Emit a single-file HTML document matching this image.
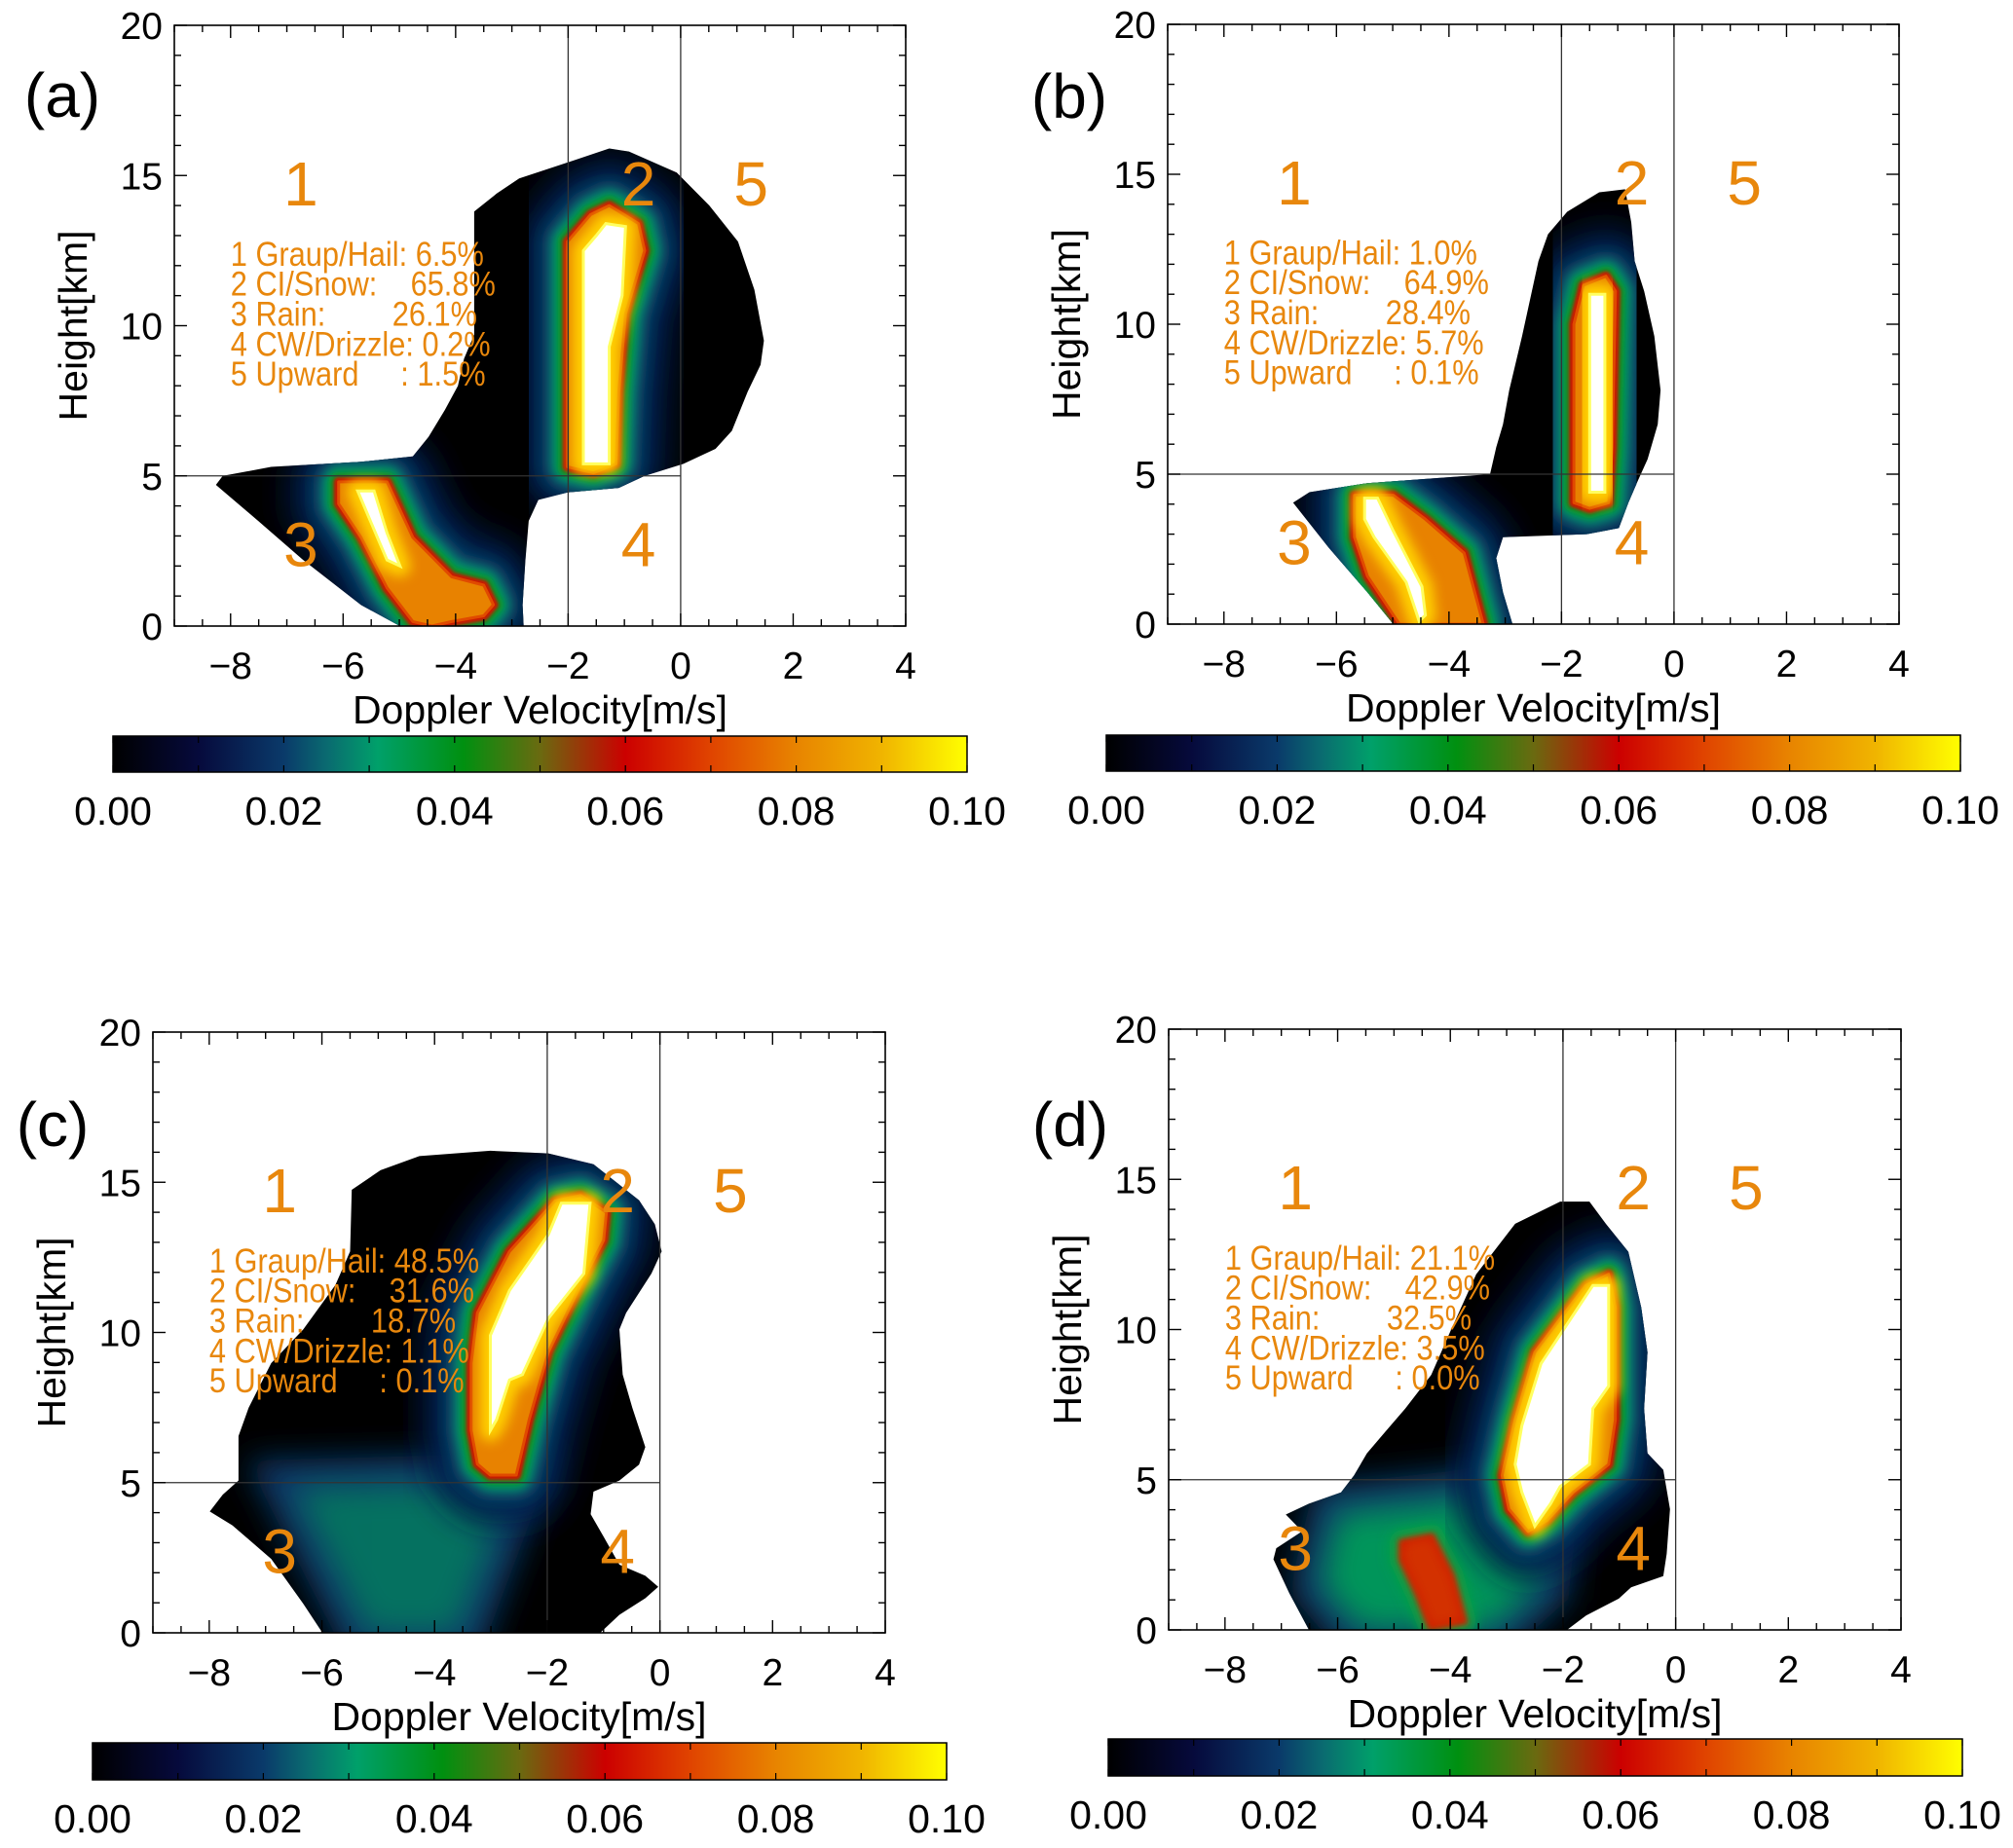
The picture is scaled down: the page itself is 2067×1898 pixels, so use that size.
<!DOCTYPE html>
<html><head><meta charset="utf-8">
<style>
html,body{margin:0;padding:0;background:#fff;}
svg{display:block;}
text{font-family:"Liberation Sans",Arial,sans-serif;}
</style></head>
<body>
<svg id="fig" width="2067" height="1898" viewBox="0 0 2067 1898" xmlns="http://www.w3.org/2000/svg">
<defs>
<linearGradient id="cmap" x1="0" x2="1" y1="0" y2="0">
<stop offset="0" stop-color="#000000"/>
<stop offset="0.1" stop-color="#060a3c"/>
<stop offset="0.2" stop-color="#0a3a6a"/>
<stop offset="0.25" stop-color="#0a6a70"/>
<stop offset="0.31" stop-color="#00a06a"/>
<stop offset="0.41" stop-color="#009010"/>
<stop offset="0.5" stop-color="#6a6a10"/>
<stop offset="0.6" stop-color="#cc0000"/>
<stop offset="0.7" stop-color="#e04400"/>
<stop offset="0.8" stop-color="#e88400"/>
<stop offset="0.9" stop-color="#f0b400"/>
<stop offset="1" stop-color="#ffff00"/>
</linearGradient>
<filter id="b1" x="-50%" y="-50%" width="200%" height="200%"><feGaussianBlur stdDeviation="1.5"/></filter>
<filter id="b3" x="-50%" y="-50%" width="200%" height="200%"><feGaussianBlur stdDeviation="3"/></filter>
<filter id="b6" x="-50%" y="-50%" width="200%" height="200%"><feGaussianBlur stdDeviation="6"/></filter>
<filter id="b10" x="-50%" y="-50%" width="200%" height="200%"><feGaussianBlur stdDeviation="10"/></filter>
<filter id="b16" x="-50%" y="-50%" width="200%" height="200%"><feGaussianBlur stdDeviation="16"/></filter>
</defs>
</svg>
<script>
// ---- axis / tick data ----
const velMajorTicks = [-8,-6,-4,-2,0,2,4];
const heightMajorTicks = [0,5,10,15,20];
const cbTickLabels = ["0.00","0.02","0.04","0.06","0.08","0.10"];
const cbTickValues = [0,0.02,0.04,0.06,0.08,0.10];
const velRange = [-9,4];
const heightRange = [0,20];
const cbRange = [0,0.1];
const legendNames = ["1 Graup/Hail: ","2 CI/Snow:    ","3 Rain:        ","4 CW/Drizzle: ","5 Upward     : "];
const pctA = [6.5,65.8,26.1,0.2,1.5];
const pctB = [1.0,64.9,28.4,5.7,0.1];
const pctC = [48.5,31.6,18.7,1.1,0.1];
const pctD = [21.1,42.9,32.5,3.5,0.0];

// ---- shape data in (velocity m/s, height km) ----
const envA = [[-4.99,0],[-5.68,0.7],[-6.71,2.2],[-7.51,3.5],[-8.26,4.7],[-8.14,5.0],[-7.28,5.3],[-5.68,5.47],[-4.76,5.65],[-4.48,6.3],[-4.19,7.2],[-3.96,8.0],[-3.85,8.9],[-3.67,9.7],[-3.67,13.8],[-3.27,14.4],[-2.87,14.9],[-1.9,15.5],[-1.27,15.9],[-0.92,15.8],[-0.07,15.1],[0.51,14.0],[1.02,12.8],[1.31,11.2],[1.48,9.5],[1.42,8.7],[1.19,7.8],[0.91,6.5],[0.62,5.9],[0.05,5.4],[-0.64,5.0],[-1.1,4.6],[-2.01,4.45],[-2.53,4.2],[-2.7,3.5],[-2.76,2.2],[-2.81,0.7],[-2.79,0]];
const coreA1 = [[-2.01,5.3],[-2.01,12.8],[-1.6,13.7],[-1.27,14.0],[-0.75,13.4],[-0.64,12.5],[-0.98,10.4],[-1.1,7.8],[-1.15,5.4],[-1.55,5.1]];
const whiteA1 = [[-1.73,5.4],[-1.73,12.5],[-1.5,13.0],[-1.33,13.4],[-0.98,13.3],[-1.04,11.0],[-1.27,9.3],[-1.27,5.4]];
const coreA2 = [[-6.08,4.8],[-5.22,4.8],[-4.76,2.95],[-4.07,1.64],[-3.5,1.36],[-3.33,0.71],[-3.5,0.34],[-4.07,0.15],[-4.42,0],[-4.76,0.15],[-5.22,1.27],[-5.68,2.95],[-6.08,4.07]];
const whiteA2 = [[-5.74,4.5],[-5.45,4.5],[-5.22,3.1],[-4.99,2.0],[-5.22,2.2],[-5.56,3.7]];

const envB = [[-4.99,0],[-5.45,1.06],[-6.14,2.56],[-6.77,4.05],[-6.48,4.4],[-5.45,4.7],[-3.27,5.0],[-3.16,5.9],[-3.04,6.66],[-2.93,7.8],[-2.7,9.6],[-2.41,12.1],[-2.24,13.0],[-1.9,13.75],[-1.33,14.4],[-0.87,14.5],[-0.76,13.4],[-0.7,12.1],[-0.53,11.1],[-0.35,9.6],[-0.24,7.8],[-0.29,6.66],[-0.47,5.5],[-0.64,4.8],[-0.81,4.05],[-0.98,3.2],[-1.55,3.0],[-3.04,2.9],[-3.16,2.2],[-3.04,1.06],[-2.87,0]];
const coreB1 = [[-1.78,4.05],[-1.78,10.0],[-1.61,11.3],[-1.21,11.6],[-1.04,11.1],[-1.1,5.9],[-1.16,4.05],[-1.5,3.86]];
const whiteB1 = [[-1.5,4.4],[-1.5,11.0],[-1.23,11.0],[-1.23,4.4]];
const coreB2 = [[-5.68,4.3],[-4.99,4.3],[-4.42,3.5],[-3.73,2.37],[-3.39,0],[-4.88,0],[-5.45,1.6],[-5.68,2.9]];
const whiteB2 = [[-5.5,4.2],[-5.27,4.2],[-4.99,3.1],[-4.48,1.25],[-4.42,0.3],[-4.53,0.1],[-4.76,1.4],[-5.33,2.9],[-5.5,3.5]];

const envC = [[-5.99,0],[-6.33,0.97],[-6.9,2.46],[-7.59,3.58],[-7.99,4.04],[-7.76,4.6],[-7.48,5.07],[-7.48,6.55],[-7.3,7.49],[-6.9,8.98],[-6.33,10.1],[-5.76,11.58],[-5.5,12.7],[-5.47,14.75],[-4.96,15.4],[-4.27,15.87],[-3.01,16.05],[-1.98,15.96],[-1.18,15.6],[-0.37,14.4],[-0.09,13.6],[0.03,12.7],[-0.15,11.96],[-0.6,10.65],[-0.72,10.1],[-0.66,8.6],[-0.49,7.49],[-0.26,6.18],[-0.37,5.6],[-0.72,5.07],[-1.18,4.7],[-1.23,3.95],[-1.0,3.2],[-0.72,2.27],[-0.26,1.9],[-0.03,1.53],[-0.26,1.15],[-0.72,0.6],[-1.06,0]];
const coreC1 = [[-3.01,5.25],[-2.55,5.25],[-2.32,7.1],[-1.98,9.35],[-1.41,11.58],[-1.0,13.07],[-0.95,14.0],[-1.41,14.56],[-1.86,14.38],[-2.67,12.7],[-3.24,10.65],[-3.35,8.98],[-3.35,6.74],[-3.24,5.62]];
const whiteC1 = [[-3.01,6.74],[-3.01,9.9],[-2.67,11.4],[-1.98,13.26],[-1.75,14.3],[-1.24,14.3],[-1.35,11.96],[-1.98,10.47],[-2.44,8.6],[-2.67,8.42],[-2.9,7.1]];
const greenC = [[-6.5,4.8],[-2.6,5.0],[-3.6,0],[-5.2,0]];

const envD = [[-6.51,0],[-6.86,1.23],[-7.14,2.35],[-7.09,2.72],[-6.63,3.28],[-6.92,3.84],[-6.51,4.2],[-5.94,4.58],[-5.71,5.14],[-5.48,5.88],[-5.14,6.63],[-4.8,7.37],[-4.34,8.49],[-3.99,9.98],[-3.54,11.84],[-2.85,13.52],[-2.05,14.26],[-1.53,14.26],[-1.24,13.52],[-0.84,12.59],[-0.61,10.73],[-0.5,9.24],[-0.56,7.37],[-0.5,5.88],[-0.22,5.33],[-0.1,4.02],[-0.16,2.53],[-0.22,1.79],[-0.79,1.42],[-1.01,1.04],[-1.59,0.48],[-1.93,0]];
const coreD1 = [[-2.62,3.28],[-2.96,4.02],[-3.08,5.14],[-2.85,7.0],[-2.5,9.24],[-2.05,10.35],[-1.59,11.47],[-1.19,11.84],[-1.07,10.73],[-1.07,7.0],[-1.19,5.51],[-1.82,4.58],[-2.28,3.65]];
const whiteD1 = [[-2.5,3.46],[-2.73,4.58],[-2.85,5.51],[-2.73,6.8],[-2.39,8.87],[-1.93,10.17],[-1.47,11.47],[-1.19,11.47],[-1.19,8.12],[-1.47,7.37],[-1.53,5.51],[-2.05,4.77],[-2.22,4.2]];
const greenD = [[-6.0,3.9],[-4.0,4.3],[-3.0,4.6],[-2.3,3.4],[-2.4,1.5],[-3.3,0],[-5.6,0],[-6.3,1.5]];
const redD = [[-4.85,2.9],[-4.34,3.09],[-3.99,1.79],[-3.77,0.3],[-4.34,0.11],[-4.57,1.23],[-4.85,2.35]];

const svg = document.getElementById('fig');
const NS = 'http://www.w3.org/2000/svg';
function mk(tag, attrs, parent){
  const e = document.createElementNS(NS, tag);
  for (const k in attrs) e.setAttribute(k, attrs[k]);
  (parent||svg).appendChild(e);
  return e;
}
function txt(s, attrs, parent){ const t = mk('text', attrs, parent); t.textContent = s; return t; }

function panel(id, P, pct, env, cores, extras){
  const g = mk('g', {});
  
  
  const X = v => P.x0 + (v - velRange[0]) / (velRange[1]-velRange[0]) * (P.x1 - P.x0);
  const Y = h => P.y1 - (h - heightRange[0]) / (heightRange[1]-heightRange[0]) * (P.y1 - P.y0);
  const pts = arr => arr.map(p => X(p[0]).toFixed(1)+','+Y(p[1]).toFixed(1)).join(' ');

  const cp = mk('clipPath', {id:'clip'+id});
  mk('polygon', {points: pts(env)}, cp);
  const cpr = mk('clipPath', {id:'plot'+id});
  mk('rect', {x:P.x0, y:P.y0, width:P.x1-P.x0, height:P.y1-P.y0}, cpr);

  const hm = mk('g', {'clip-path':'url(#plot'+id+')'}, g);
  
  
  const envEl = mk('polygon', {points: pts(env), fill:'#000'}, hm);
  
  
  const inner = mk('g', {'clip-path':'url(#clip'+id+')'}, hm);
  (extras||[]).forEach(ex => {
    if (ex.type === 'green') {
      mk('polygon', {points: pts(ex.p), fill:'#0a3a6a', stroke:'#0a3a6a', 'stroke-width':60, filter:'url(#b16)'}, inner);
      mk('polygon', {points: pts(ex.p), fill:'#00955a', filter:'url(#b16)', opacity: ex.op||1}, inner);
    } else if (ex.type === 'red') {
      mk('polygon', {points: pts(ex.p), fill:'none', stroke:'#10a040', 'stroke-width':26, 'stroke-linejoin':'round', filter:'url(#b6)'}, inner);
      mk('polygon', {points: pts(ex.p), fill:'#cc1a00', stroke:'#cc1a00', 'stroke-width':8, filter:'url(#b3)'}, inner);
      mk('polygon', {points: pts(ex.p), fill:'#d84000', filter:'url(#b6)', opacity:0.6}, inner);
    } else if (ex.type === 'streak') {
      mk('line', {x1:X(ex.v0), x2:X(ex.v1), y1:Y(ex.h), y2:Y(ex.h), stroke: ex.c, 'stroke-width': ex.w, filter:'url(#b1)'}, inner);
    }
  });
  cores.forEach(c => {
    const cg = mk('g', {}, inner);
    
    
    const P1 = pts(c.p);
    mk('polygon', {points:P1, fill:'#061a4a', stroke:'#061a4a', 'stroke-width':100, 'stroke-linejoin':'round', filter:'url(#b16)'}, cg);
    mk('polygon', {points:P1, fill:'#0a4a70', stroke:'#0a4a70', 'stroke-width':52, 'stroke-linejoin':'round', filter:'url(#b10)'}, cg);
    mk('polygon', {points:P1, fill:'#00a068', stroke:'#00a068', 'stroke-width':32, 'stroke-linejoin':'round', filter:'url(#b6)'}, cg);
    mk('polygon', {points:P1, fill:'#109020', stroke:'#109020', 'stroke-width':20, 'stroke-linejoin':'round', filter:'url(#b3)'}, cg);
    mk('polygon', {points:P1, fill:'#cc1200', stroke:'#cc1200', 'stroke-width':10, 'stroke-linejoin':'round', filter:'url(#b1)'}, cg);
    mk('polygon', {points:P1, fill:'#e88200', stroke:'#e04a00', 'stroke-width':3, 'stroke-linejoin':'round'}, cg);
    const P2 = pts(c.w);
    mk('polygon', {points:P2, fill:'#ffd800', stroke:'#ffd000', 'stroke-width':22, 'stroke-linejoin':'round', filter:'url(#b6)'}, cg);
    mk('polygon', {points:P2, fill:'#ffffff', stroke:'#ffff60', 'stroke-width':3}, cg);
  });

  const rl = mk('g', {stroke:'#333', 'stroke-width':1.3}, g);
  
  
  mk('line', {x1:X(-2), x2:X(-2), y1:P.y0, y2:P.y1}, rl);
  mk('line', {x1:X(0), x2:X(0), y1:P.y0, y2:P.y1}, rl);
  mk('line', {x1:P.x0, x2:X(0), y1:Y(5), y2:Y(5)}, rl);

  const fr = mk('rect', {x:P.x0, y:P.y0, width:P.x1-P.x0, height:P.y1-P.y0, fill:'none', stroke:'#000', 'stroke-width':1.6}, g);
  
  

  const tk = mk('g', {stroke:'#000', 'stroke-width':1.4}, g);
  
  
  for (let v = velRange[0]; v <= velRange[1] + 1e-9; v += 0.5) {
    const L = (Math.abs(v % 2) < 1e-9) ? 13 : 7;
    mk('line', {x1:X(v), x2:X(v), y1:P.y1, y2:P.y1 - L}, tk);
    mk('line', {x1:X(v), x2:X(v), y1:P.y0, y2:P.y0 + L}, tk);
  }
  for (let h = heightRange[0]; h <= heightRange[1]; h += 1) {
    const L = (h % 5 === 0) ? 13 : 7;
    mk('line', {x1:P.x0, x2:P.x0 + L, y1:Y(h), y2:Y(h)}, tk);
    mk('line', {x1:P.x1, x2:P.x1 - L, y1:Y(h), y2:Y(h)}, tk);
  }
  velMajorTicks.forEach(v => {
    const t = txt(v < 0 ? '\u2212' + Math.abs(v) : String(v), {x:X(v), y:P.y1 + 54, 'font-size':39, 'text-anchor':'middle'}, g);
    
    
  });
  heightMajorTicks.forEach(h => {
    const t = txt(String(h), {x:P.x0 - 12, y:Y(h) + 14, 'font-size':39, 'text-anchor':'end'}, g);
    
    
  });
  const xt = txt('Doppler Velocity[m/s]', {x:(P.x0+P.x1)/2, y:P.y1 + 100, 'font-size':41, 'text-anchor':'middle'}, g);
  
  
  const yc = (P.y0 + P.y1)/2, xc = P.x0 - 90;
  const yt = txt('Height[km]', {x:xc, y:yc, 'font-size':41, 'text-anchor':'middle', transform:'rotate(-90 '+xc+' '+yc+')'}, g);
  
  

  const pl = txt('('+id+')', {x:P.lab[0], y:P.lab[1] + 22, 'font-size':64, 'text-anchor':'middle'}, g);
  
  

  const OR = '#e8870c';
  [[1,-6.75,14],[2,-0.75,14],[5,1.25,14],[3,-6.75,2],[4,-0.75,2]].forEach(r => {
    const t = txt(String(r[0]), {x:X(r[1]), y:Y(r[2]), 'font-size':64, 'text-anchor':'middle', fill:OR}, g);
    
    
  });
  const lg = mk('g', {}, g);
  
  
  legendNames.forEach((n, i) => {
    const x = X(-8), y = Y(12 - i);
    const t = txt(n + pct[i].toFixed(1) + '%', {x:0, y:0, 'font-size':35, fill:OR, transform:'translate('+x+' '+y+') scale(0.88 1)'}, lg);
    t.setAttribute('style', 'white-space:pre');
    
    
  });

  const C = P.cb;
  const CX = v => C[0] + (v - cbRange[0]) / (cbRange[1]-cbRange[0]) * (C[1] - C[0]);
  const cbg = mk('g', {}, g);
  
  
  mk('rect', {x:C[0], y:C[2], width:C[1]-C[0], height:C[3]-C[2], fill:'url(#cmap)', stroke:'#000', 'stroke-width':1.5}, cbg);
  for (let k = 0; k <= 10; k++) {
    const xx = CX(k * 0.01);
    mk('line', {x1:xx, x2:xx, y1:C[2], y2:C[2] + 7, stroke:'#000', 'stroke-width':1.2}, cbg);
    mk('line', {x1:xx, x2:xx, y1:C[3], y2:C[3] - 7, stroke:'#000', 'stroke-width':1.2}, cbg);
  }
  cbTickValues.forEach((v, i) => {
    const t = txt(cbTickLabels[i], {x:CX(v), y:C[3] + 54, 'font-size':41, 'text-anchor':'middle'}, cbg);
    
    
  });
}

panel('a', {x0:179,x1:930,y0:26,y1:643, cb:[116,993,756,793], lab:[64,98]}, pctA, envA,
  [{name:'ice', p:coreA1, w:whiteA1},{name:'rain', p:coreA2, w:whiteA2}],
  [{type:'streak', v0:-6.2, v1:-1.2, h:5.2, c:'#108a40', w:4}]);
panel('b', {x0:1199,x1:1950,y0:25,y1:641, cb:[1136,2013,755,792], lab:[1098,99]}, pctB, envB,
  [{name:'ice', p:coreB1, w:whiteB1},{name:'rain', p:coreB2, w:whiteB2}],
  [{type:'streak', v0:-5.5, v1:-1.5, h:4.5, c:'#0a6a60', w:5},{type:'streak', v0:-4.5, v1:-1.8, h:4.8, c:'#0a5a60', w:3}]);
panel('c', {x0:157,x1:909,y0:1060,y1:1677, cb:[95,972,1790,1828], lab:[54,1155]}, pctC, envC,
  [{name:'ice', p:coreC1, w:whiteC1}],
  [{type:'green', p:greenC, op:0.6},{type:'streak', v0:-6.8, v1:-2.2, h:4.95, c:'#10a050', w:5}]);
panel('d', {x0:1200,x1:1952,y0:1057,y1:1674, cb:[1138,2015,1786,1824], lab:[1099,1155]}, pctD, envD,
  [{name:'ice', p:coreD1, w:whiteD1}],
  [{type:'green', p:greenD, op:1},{type:'red', p:redD}]);
</script>
</body></html>
